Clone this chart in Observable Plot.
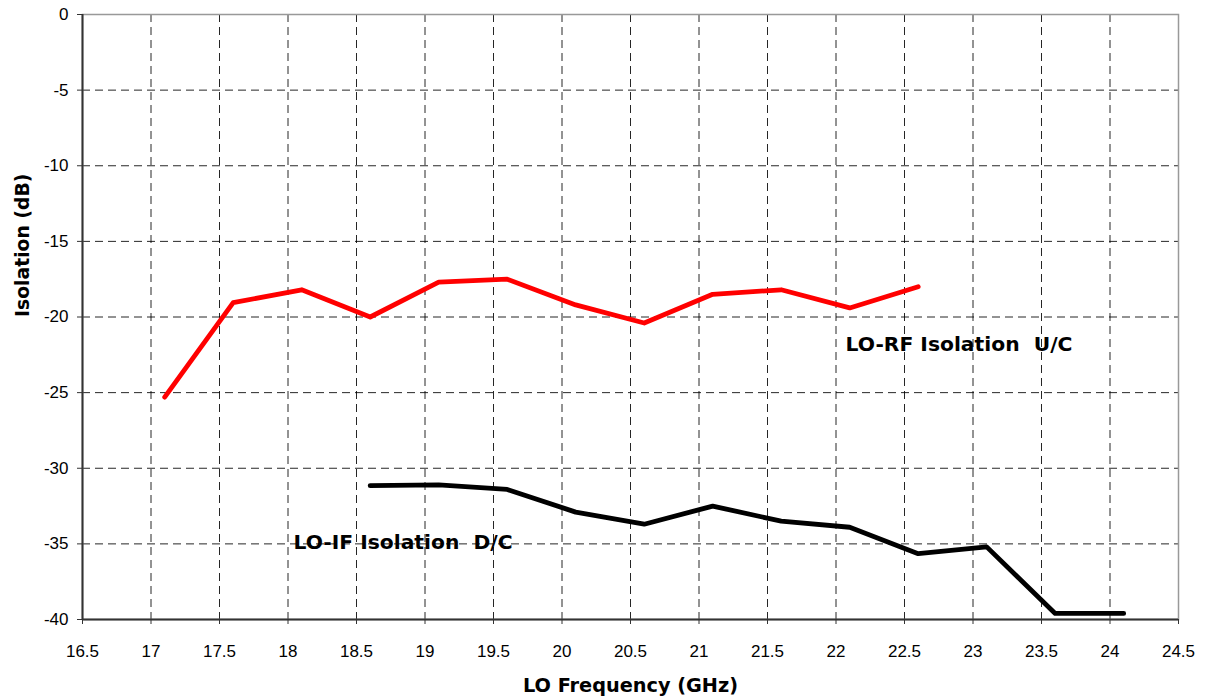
<!DOCTYPE html>
<html>
<head>
<meta charset="utf-8">
<script src="https://cdn.jsdelivr.net/npm/d3@7"></script>
<script src="https://cdn.jsdelivr.net/npm/@observablehq/plot@0.6"></script>
<style>
  html, body { margin: 0; padding: 0; background: #fff; }
  #chart svg { display: block; }
</style>
</head>
<body>
<div id="chart"></div>
<script>
// LO frequency points (GHz)
const rfFreq = [17.1, 17.6, 18.1, 18.6, 19.1, 19.6, 20.1, 20.6, 21.1, 21.6, 22.1, 22.6];
const rfIso  = [-25.3, -19.05, -18.2, -20.0, -17.7, -17.5, -19.2, -20.4, -18.5, -18.2, -19.4, -18.0];
const ifFreq = [18.6, 19.1, 19.6, 20.1, 20.6, 21.1, 21.6, 22.1, 22.6, 23.1, 23.6, 24.1];
const ifIso  = [-31.15, -31.1, -31.4, -32.9, -33.7, -32.5, -33.5, -33.9, -35.65, -35.2, -39.6, -39.6];
const xTicks = [16.5, 17, 17.5, 18, 18.5, 19, 19.5, 20, 20.5, 21, 21.5, 22, 22.5, 23, 23.5, 24, 24.5];
const yTicks = [0, -5, -10, -15, -20, -25, -30, -35, -40];
const labels = [
  {x: 22.07, y: -21.8, text: "LO-RF Isolation  U/C"},
  {x: 18.04, y: -34.9, text: "LO-IF Isolation  D/C"}
];

const rf = rfFreq.map((f, i) => ({f, v: rfIso[i]}));
const lf = ifFreq.map((f, i) => ({f, v: ifIso[i]}));

const chart = Plot.plot({
  width: 1214,
  height: 696,
  marginLeft: 82,
  marginRight: 36,
  marginTop: 14,
  marginBottom: 77,
  style: {fontFamily: "Liberation Sans, Arial, sans-serif", background: "#fff"},
  x: {domain: [16.5, 24.5]},
  y: {domain: [-40, 0]},
  marks: [
    Plot.gridX(xTicks, {stroke: "#000", strokeOpacity: 0.85, strokeDasharray: "8,5"}),
    Plot.gridY(yTicks, {stroke: "#000", strokeOpacity: 0.85, strokeDasharray: "8,5"}),
    Plot.frame({stroke: "#999", strokeWidth: 1.5}),
    Plot.ruleX([16.5], {stroke: "#333", strokeWidth: 2}),
    Plot.ruleY([-40], {stroke: "#333", strokeWidth: 2}),
    Plot.axisX({ticks: xTicks, tickSize: 5, tickPadding: 20, fontSize: 17, label: null, stroke: "#333", color: "#000", tickFormat: d => String(d)}),
    Plot.axisY({ticks: yTicks, tickSize: 5, tickPadding: 9, fontSize: 17, label: null, stroke: "#333", color: "#000", tickFormat: d => String(d)}),
    Plot.line(rf, {x: "f", y: "v", stroke: "#ff0000", strokeWidth: 4.8}),
    Plot.line(lf, {x: "f", y: "v", stroke: "#000", strokeWidth: 4.8}),
    Plot.text(labels, {x: "x", y: "y", text: "text", textAnchor: "start", fontSize: 20.3, fontWeight: "bold", fontFamily: "DejaVu Sans", fill: "#000"}),
    Plot.text(["LO Frequency (GHz)"], {frameAnchor: "bottom", dy: 72, fontSize: 19.3, fontWeight: "bold", fontFamily: "DejaVu Sans", fill: "#000"}),
    Plot.text(["Isolation (dB)"], {frameAnchor: "left", dx: -60, rotate: -90, fontSize: 18.8, fontWeight: "bold", fontFamily: "DejaVu Sans", fill: "#000"})
  ]
});
document.getElementById("chart").appendChild(chart);
</script>
</body>
</html>
